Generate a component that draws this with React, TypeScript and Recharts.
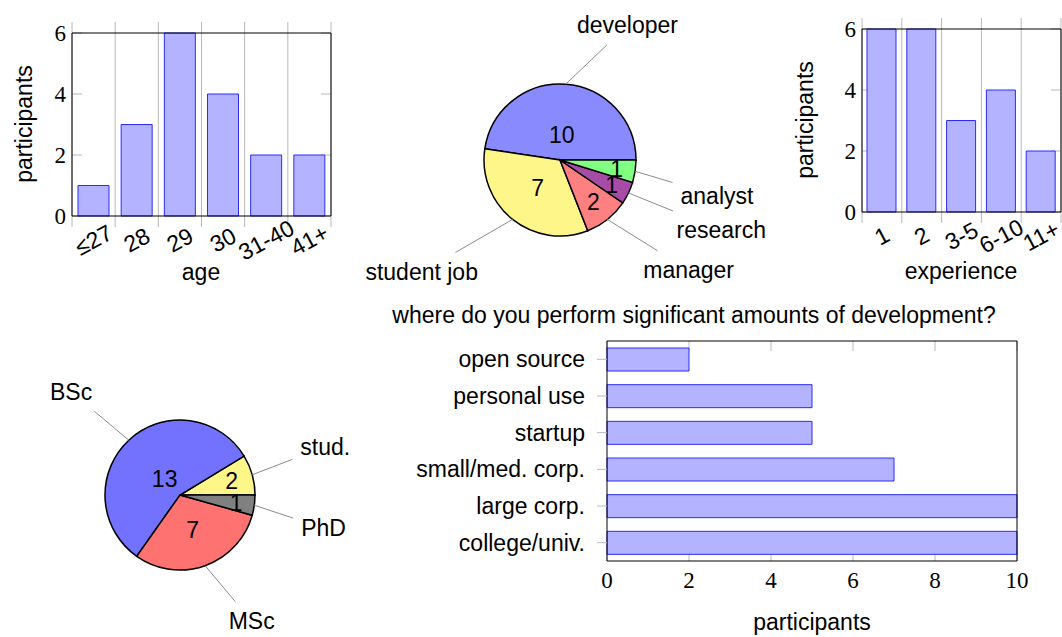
import { Bar, BarChart, CartesianGrid, Cell, Pie, PieChart, XAxis, YAxis } from 'recharts';

const SANS = "'Liberation Sans', Arial, Helvetica, sans-serif";
const SERIF = "'Liberation Serif', 'Times New Roman', serif";
const FS = 23;
const RAD = Math.PI / 180;

// survey answers
const ageGroups = ['≤27', '28', '29', '30', '31-40', '41+'];
const ageCounts = [1, 3, 6, 4, 2, 2];

const expGroups = ['1', '2', '3-5', '6-10', '11+'];
const expCounts = [6, 6, 3, 4, 2];

const jobRoles = ['developer', 'student job', 'manager', 'research', 'analyst'];
const jobCounts = [10, 7, 2, 1, 1];

const degrees = ['stud.', 'BSc', 'MSc', 'PhD'];
const degreeCounts = [2, 13, 7, 1];

const devPlaces = ['open source', 'personal use', 'startup', 'small/med. corp.', 'large corp.', 'college/univ.'];
const devCounts = [2, 5, 5, 7, 10, 10];

const countTicks = [0, 2, 4, 6];
const devTicks = [0, 2, 4, 6, 8, 10];

const ageData = ageGroups.map((label, i) => ({ label, count: ageCounts[i] }));
const expData = expGroups.map((label, i) => ({ label, count: expCounts[i] }));
const jobData = jobRoles.map((name, i) => ({ name, value: jobCounts[i] }));
const degreeData = degrees.map((name, i) => ({ name, value: degreeCounts[i] }));
const devData = devPlaces.map((place, i) => ({ place, count: devCounts[i] }));

// styling
const BAR_FILL = '#b3b3ff';
const BAR_STROKE = '#2b2bff';
const GRID = '#b8b8b8';
const NO_MARGIN = { top: 0, right: 0, bottom: 0, left: 0 };

const jobColors: Record<string, string> = {
  developer: '#8a8aff',
  'student job': '#fff68a',
  manager: '#ff8080',
  research: '#a64ca6',
  analyst: '#80ff80',
};
const degreeColors: Record<string, string> = {
  'stud.': '#fff68a',
  BSc: '#7272ff',
  MSc: '#ff7272',
  PhD: '#808080',
};

// leader line direction (deg) and length for the outside labels
const jobPins: Record<string, { angle: number; len: number }> = {
  developer: { angle: 43.6, len: 57 },
  'student job': { angle: 210, len: 66 },
  manager: { angle: 328, len: 59 },
  research: { angle: 338, len: 48 },
  analyst: { angle: 343.4, len: 39 },
};
const degreePins: Record<string, { angle: number; len: number }> = {
  BSc: { angle: 140, len: 45 },
  'stud.': { angle: 21, len: 43 },
  PhD: { angle: 341.6, len: 41 },
  MSc: { angle: 310, len: 47 },
};

const measureCtx = typeof document !== 'undefined' ? document.createElement('canvas').getContext('2d') : null;
function textWidth(s: string) {
  if (!measureCtx) return s.length * FS * 0.5;
  measureCtx.font = `${FS}px ${SANS}`;
  return measureCtx.measureText(s).width;
}

function makePieLabel(pins: Record<string, { angle: number; len: number }>) {
  return (p: any) => {
    const { cx, cy, midAngle, outerRadius, percent, name, value, index } = p;
    const r = outerRadius;
    const a = midAngle * RAD;
    const span = percent * 360;
    // number sits further out on thin slices
    const ri = (0.8 + Math.max(-0.5, (-0.3 * span) / 110)) * r;
    const pin = pins[name];
    const sx = cx + r * Math.cos(a);
    const sy = cy - r * Math.sin(a);
    const ux = Math.cos(pin.angle * RAD);
    const uy = -Math.sin(pin.angle * RAD);
    const ex = sx + ux * pin.len;
    const ey = sy + uy * pin.len;
    const hw = textWidth(name) / 2 + 8;
    const hh = FS / 2 + 8;
    const t = Math.min(hw / Math.max(Math.abs(ux), 1e-6), hh / Math.max(Math.abs(uy), 1e-6));
    return (
      <g key={`lab-${index}`}>
        <text x={cx + ri * Math.cos(a)} y={cy - ri * Math.sin(a)} textAnchor="middle" dominantBaseline="central"
          fontFamily={SANS} fontSize={FS} fill="#000">{value}</text>
        <line x1={sx} y1={sy} x2={ex} y2={ey} stroke="#8c8c8c" strokeWidth={1} />
        <text x={ex + ux * t} y={ey + uy * t} textAnchor="middle" dominantBaseline="central"
          fontFamily={SANS} fontSize={FS} fill="#000">{name}</text>
      </g>
    );
  };
}

const RotTick = (p: any) => {
  const { x, y, payload } = p;
  const ty = y + 24;
  return (
    <text x={x} y={ty} transform={`rotate(-28 ${x} ${ty})`} textAnchor="middle" dominantBaseline="central"
      fontFamily={SANS} fontSize={FS} fill="#000">{payload.value}</text>
  );
};

function Caption({ x, y, rotate = 0, children }: { x: number; y: number; rotate?: number; children: any }) {
  return (
    <div style={{
      position: 'absolute', left: x, top: y, transform: `translate(-50%, -50%) rotate(${rotate}deg)`,
      fontFamily: SANS, fontSize: FS, lineHeight: 1, whiteSpace: 'nowrap', color: '#000',
    }}>{children}</div>
  );
}

const Y_W = 40;

// plot gives the plot box insets; the 1px frame axes are taken off it
function CountChart({ data, width, height, plot, barSize }: any) {
  const n = data.length;
  const plotW = width - plot.left - plot.right;
  const bounds = Array.from({ length: n + 1 }, (_, i) => plot.left + (i * plotW) / n);
  return (
    <BarChart width={width} height={height} data={data}
      margin={{ top: plot.top - 1, right: plot.right - 1, bottom: plot.bottom - 1, left: plot.left - Y_W }}>
      <CartesianGrid
        verticalCoordinatesGenerator={() => bounds}
        vertical={(p: any) => (
          <line key={p.key ?? `v${p.x1}`} x1={p.x1} x2={p.x2} y1={p.y1 - 11} y2={p.y2 + 11} stroke={GRID} />
        )}
        horizontal={(p: any) => (
          <g key={p.key ?? `h${p.y1}`}>
            <line x1={p.x1} x2={p.x1 + 10} y1={p.y1} y2={p.y2} stroke={GRID} />
            <line x1={p.x2 - 10} x2={p.x2} y1={p.y1} y2={p.y2} stroke={GRID} />
          </g>
        )}
      />
      <XAxis dataKey="label" interval={0} tickLine={false} tickSize={0} tickMargin={0} height={1}
        stroke="#000" tick={RotTick} />
      <XAxis xAxisId="top" orientation="top" dataKey="label" tick={false} tickLine={false} height={1} stroke="#000" />
      <YAxis domain={[0, 6]} ticks={countTicks} interval={0} width={Y_W} tickLine={false} tickSize={0}
        tickMargin={6} stroke="#000" tick={{ fontFamily: SERIF, fontSize: FS, fill: '#000' }} />
      <YAxis yAxisId="right" orientation="right" domain={[0, 6]} width={1} tick={false} tickLine={false} stroke="#000" />
      <Bar dataKey="count" fill={BAR_FILL} stroke={BAR_STROKE} strokeWidth={1} barSize={barSize}
        isAnimationActive={false} />
    </BarChart>
  );
}

export default function App() {
  return (
    <div style={{ position: 'relative', width: 1062, height: 637, overflow: 'hidden', background: '#fff' }}>
      <style>{'body{margin:0}'}</style>

      {/* age */}
      <div style={{ position: 'absolute', left: 0, top: 0 }}>
        <CountChart data={ageData} width={340} height={290} barSize={31}
          plot={{ top: 33, right: 9, bottom: 74, left: 72 }} />
      </div>
      <Caption x={24} y={124} rotate={-90}>participants</Caption>
      <Caption x={201} y={272}>age</Caption>

      {/* job */}
      <div style={{ position: 'absolute', left: 340, top: 0 }}>
        <PieChart width={440} height={300} margin={NO_MARGIN}>
          <Pie data={jobData} dataKey="value" nameKey="name" cx={220} cy={160} outerRadius={76}
            startAngle={0} endAngle={360} stroke="#000" strokeWidth={1.5} labelLine={false}
            label={makePieLabel(jobPins)} isAnimationActive={false}>
            {jobData.map((d) => <Cell key={d.name} fill={jobColors[d.name]} />)}
          </Pie>
        </PieChart>
      </div>

      {/* experience */}
      <div style={{ position: 'absolute', left: 780, top: 0 }}>
        <CountChart data={expData} width={282} height={290} barSize={29}
          plot={{ top: 29, right: 1, bottom: 78, left: 82 }} />
      </div>
      <Caption x={805} y={120} rotate={-90}>participants</Caption>
      <Caption x={961} y={271}>experience</Caption>

      {/* degree */}
      <div style={{ position: 'absolute', left: 0, top: 360 }}>
        <PieChart width={380} height={277} margin={NO_MARGIN}>
          <Pie data={degreeData} dataKey="value" nameKey="name" cx={180} cy={135} outerRadius={75}
            startAngle={0} endAngle={360} stroke="#000" strokeWidth={1.5} labelLine={false}
            label={makePieLabel(degreePins)} isAnimationActive={false}>
            {degreeData.map((d) => <Cell key={d.name} fill={degreeColors[d.name]} />)}
          </Pie>
        </PieChart>
      </div>

      {/* development places */}
      <Caption x={694} y={315}>where do you perform significant amounts of development?</Caption>
      <div style={{ position: 'absolute', left: 380, top: 300 }}>
        <BarChart layout="vertical" width={682} height={337} data={devData}
          margin={{ top: 40, right: 44, bottom: 75, left: 0 }}>
          <CartesianGrid horizontal={false}
            vertical={(p: any) => (
              <g key={p.key ?? `v${p.x1}`}>
                <line x1={p.x1} x2={p.x2} y1={p.y1} y2={p.y1 + 10} stroke={GRID} />
                <line x1={p.x1} x2={p.x2} y1={p.y2 - 10} y2={p.y2} stroke={GRID} />
              </g>
            )}
          />
          <XAxis type="number" domain={[0, 10]} ticks={devTicks} interval={0} tickLine={false} tickSize={0}
            tickMargin={11} height={1} stroke="#000" tick={{ fontFamily: SERIF, fontSize: FS, fill: '#000' }} />
          <XAxis xAxisId="top" orientation="top" type="number" domain={[0, 10]} tick={false} tickLine={false}
            height={1} stroke="#000" />
          <YAxis type="category" dataKey="place" width={227} interval={0} tickSize={10} tickMargin={12}
            tickLine={{ stroke: GRID }} stroke="#000" tick={{ fontFamily: SANS, fontSize: FS, fill: '#000' }} />
          <YAxis yAxisId="right" orientation="right" type="category" dataKey="place" width={1} tick={false}
            tickLine={false} stroke="#000" />
          <Bar dataKey="count" fill={BAR_FILL} stroke={BAR_STROKE} strokeWidth={1} barSize={23}
            isAnimationActive={false} />
        </BarChart>
      </div>
      <Caption x={812} y={622}>participants</Caption>
    </div>
  );
}
